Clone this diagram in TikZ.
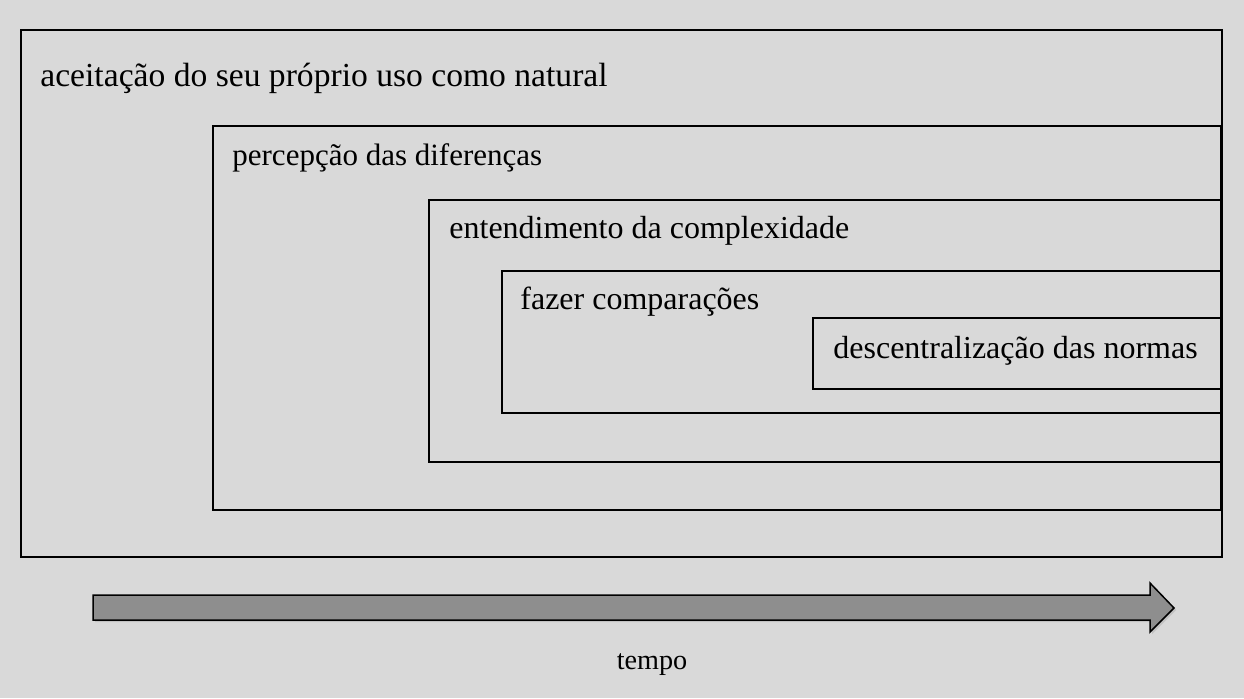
\documentclass[tikz,border=0pt]{standalone}
\usepackage{fontspec}
\setmainfont{Liberation Serif}
\usetikzlibrary{shadows}

\definecolor{bggray}{RGB}{217,217,217}
\definecolor{arrowgray}{RGB}{142,142,142}

\begin{document}
\begin{tikzpicture}[x = 0.5pt, y = -0.5pt, font = \fontsize{16}{19}\selectfont,
	box/.style = {draw, line width = 0.6pt},
	stage/.style = {anchor = base west, inner sep = 0pt}]

	% Background + bounding box

	\fill [bggray] (0, 0) rectangle (1244, 698);
	\useasboundingbox (0, 0) rectangle (1244, 698);

	% Draw nested boxes

	\draw [box, line width = 0.85pt] (21, 30) rectangle (1222, 557);
	\draw [box] (213, 126) rectangle (1221, 510);
	\draw [box] (429, 200) rectangle (1221, 462);
	\draw [box] (502, 271) rectangle (1221, 413);
	\draw [box] (813, 318) rectangle (1221, 389);

	% Box labels

	\node [stage, font = \fontsize{16.8}{20}\selectfont] (natural) at (40, 86)
		{aceitação do seu próprio uso como natural};
	\node [stage, font = \fontsize{15.5}{18}\selectfont] (diferenca) at (232, 165)
		{percepção das diferenças};
	\node [stage] (complexo) at (449, 238) {entendimento da complexidade};
	\node [stage] (compara)  at (520, 309) {fazer comparações};
	\node [stage] (normas)   at (833, 358) {descentralização das normas};

	% Draw time arrow

	\draw [line width = 0.75pt, fill = arrowgray, line join = miter,
		drop shadow = {opacity = 0.25, shadow xshift = 1pt, shadow yshift = -1pt}]
		(93, 595) -- (1150, 595) -- (1150, 583) -- (1174, 608)
		-- (1150, 632) -- (1150, 620) -- (93, 620) -- cycle;

	% Arrow label

	\node [anchor = base, inner sep = 0pt, font = \fontsize{14.1}{17}\selectfont]
		(tempo) at (652, 669) {tempo};

\end{tikzpicture}
\end{document}
